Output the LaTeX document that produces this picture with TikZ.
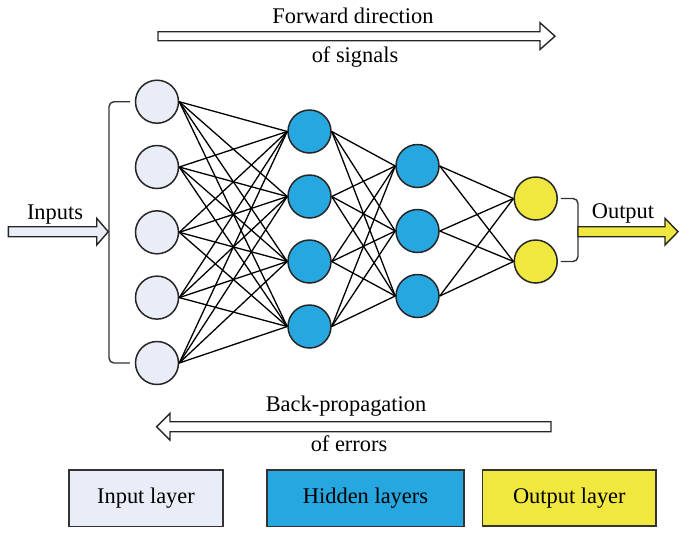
\documentclass[tikz,border=0pt]{standalone}
\usepackage{fontspec}
\setmainfont{Liberation Serif}

\definecolor{inblue}{RGB}{232,237,247}
\definecolor{hidblue}{RGB}{38,167,223}
\definecolor{outyel}{RGB}{240,232,62}

\tikzset{
    neuron/.style={circle,draw=black!85,line width=0.75pt,minimum size=21.5pt,inner sep=0pt},
    link/.style={line width=0.65pt},
    hollow/.style={draw=black!85,line width=0.7pt,fill=white},
    bracket/.style={draw=black!80,line width=0.7pt,rounded corners=2.5pt},
    legend/.style={draw=black!80,line width=0.85pt,minimum height=28.3pt,inner sep=0pt}
}

\begin{document}
\begin{tikzpicture}[x=0.5pt,y=-0.5pt,font=\fontsize{11.2}{13}\selectfont]
    \useasboundingbox(0,0)rectangle(692,538);

    % layers
    \foreach \i/\y in {1/101.7,2/167,3/232.3,4/297.6,5/363}
        \node[neuron,fill=inblue](in\i)at(157,\y){};
    \foreach \i/\y in {1/131.5,2/196.5,3/261.5,4/326.5}
        \node[neuron,fill=hidblue](hA\i)at(309.5,\y){};
    \foreach \i/\y in {1/166,2/231,3/296}
        \node[neuron,fill=hidblue](hB\i)at(417.5,\y){};
    \foreach \i/\y in {1/198.5,2/261.5}
        \node[neuron,fill=outyel](out\i)at(535.7,\y){};

    % connections
    \foreach \i in {1,...,5}
        \foreach \j in {1,...,4}
            \draw[link](in\i.east)--(hA\j.west);
    \foreach \i in {1,...,4}
        \foreach \j in {1,...,3}
            \draw[link](hA\i.east)--(hB\j.west);
    \foreach \i in {1,...,3}
        \foreach \j in {1,2}
            \draw[link](hB\i.east)--(out\j.west);

    % brackets
    \draw[bracket]([xshift=-2.5pt]in1.west)-|(109,232)|-([xshift=-2.5pt]in5.west);
    \draw[bracket]([xshift=1.5pt]out1.east)-|(578,231.7)|-([xshift=1.5pt]out2.east);

    % inputs and output
    \draw[hollow,fill=inblue](8.3,226.7)--(96.7,226.7)--(96.7,218.3)--(108.3,231.7)--(96.7,245)--(96.7,236.7)--(8.3,236.7)--cycle;
    \node[anchor=base](inlabel)at(55,219.3){Inputs};
    \draw[hollow,fill=outyel](578,226.7)--(665,226.7)--(665,218.3)--(678,231.7)--(665,245)--(665,236.7)--(578,236.7)--cycle;
    \node[anchor=base](outlabel)at(623,218.3){Output};

    % directions
    \draw[hollow](158,31.7)--(540,31.7)--(540,22.7)--(555,36.2)--(540,49.5)--(540,40.7)--(158,40.7)--cycle;
    \node[anchor=base](fwd1)at(353,23.3){Forward direction};
    \node[anchor=base](fwd2)at(355,62){of signals};
    \draw[hollow](551,421.7)--(170,421.7)--(170,413.3)--(156.7,426.7)--(170,440)--(170,431.7)--(551,431.7)--cycle;
    \node[anchor=base](back1)at(346,411.7){Back-propagation};
    \node[anchor=base](back2)at(349,451.7){of errors};

    % legend
    \node[legend,fill=inblue,minimum width=76.7pt](legIn)at(146,498.3){Input layer};
    \node[legend,fill=hidblue,minimum width=98.5pt](legHid)at(365.5,498.3){Hidden layers};
    \node[legend,fill=outyel,minimum width=86.7pt](legOut)at(569.3,498){Output layer};
\end{tikzpicture}
\end{document}
